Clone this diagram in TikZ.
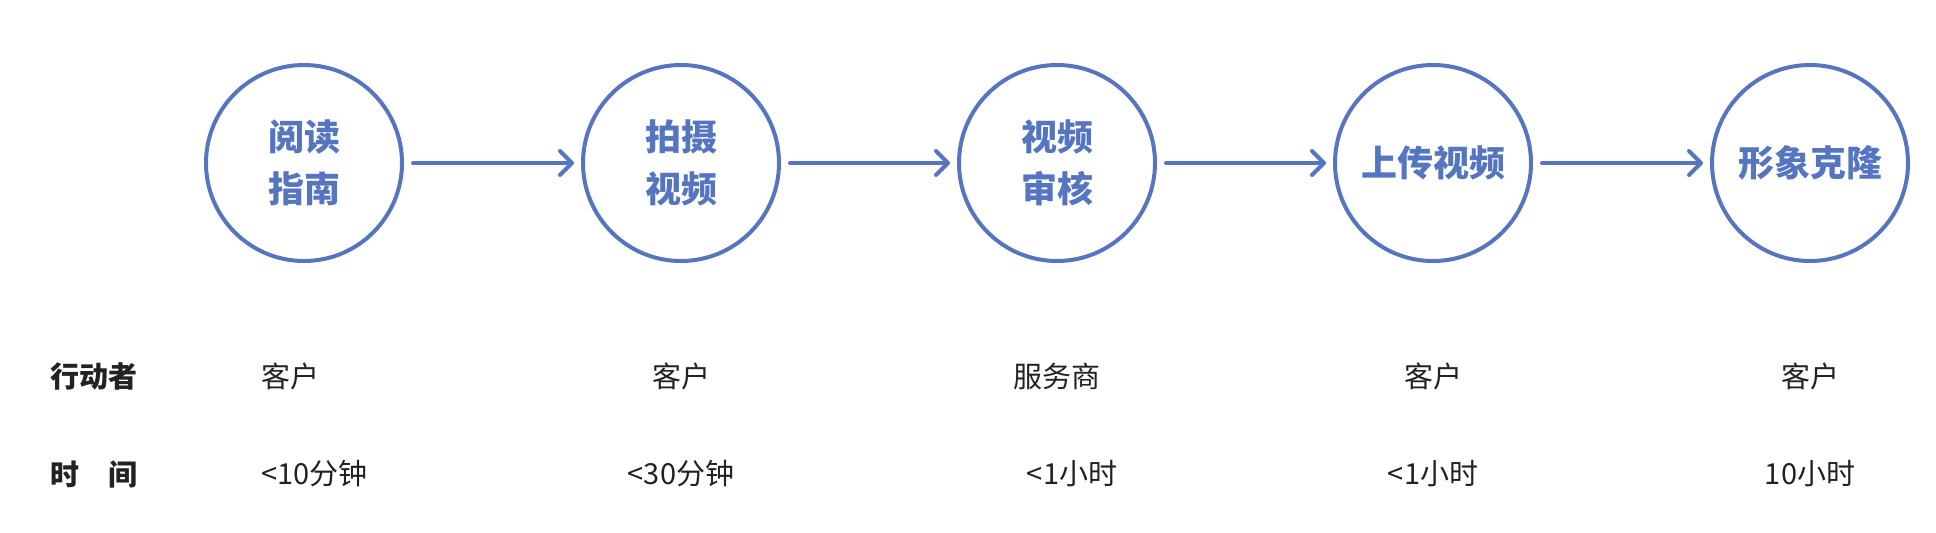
\documentclass[tikz,border=0pt]{standalone}
\usepackage{xcolor}
\usepackage{fontspec}
\setmainfont{Noto Sans CJK SC}
\usepackage{tikz}
\usetikzlibrary{arrows.meta}
\usetikzlibrary{positioning}
\definecolor{flowblue}{RGB}{86,117,193}
\definecolor{cellgray}{RGB}{34,34,34}
\tikzset{
stage/.style = { circle, draw = flowblue, line width = 2pt, minimum size = 98pt, inner sep = 0pt, text = flowblue, font = \fontsize{18pt}{26.25pt}\selectfont\bfseries, align = center },
flow/.style = { draw = flowblue, line width = 2pt, line cap = round, -{Straight Barb[length = 6pt, width = 12pt, line cap = round, line join = round]}, shorten < = 4.5pt, shorten > = 3.5pt },
row head/.style = { anchor = west, inner sep = 0pt, text = cellgray, font = \fontsize{14.5pt}{17pt}\selectfont\bfseries },
row cell/.style = { inner sep = 0pt, text = cellgray, font = \fontsize{14.5pt}{17pt}\selectfont },
}

\begin{document}
\begin{tikzpicture}[x = 0.5pt, y = -0.5pt]
      \useasboundingbox (0, 0) rectangle (1936, 532);
      % stages
      \node[stage] (read) at (304, 163) {阅读\\指南};
      \node[stage] (shoot) at (681, 163) {拍摄\\视频};
      \node[stage] (review) at (1057, 163) {视频\\审核};
      \node[stage] (upload) at (1433, 163) {上传视频};
      \node[stage] (clone) at (1810, 163) {形象克隆};
      \draw[flow] (read) -- (shoot);
      \draw[flow] (shoot) -- (review);
      \draw[flow] (review) -- (upload);
      \draw[flow] (upload) -- (clone);
      % actor row
      \node[row head] (actor) at (50, 376) {行动者};
      \node[row cell, anchor = west] (actor read) at (261, 376) {客户};
      \node[row cell] (actor shoot) at (681, 376) {客户};
      \node[row cell] (actor review) at (1057, 376) {服务商};
      \node[row cell] (actor upload) at (1433, 376) {客户};
      \node[row cell] (actor clone) at (1810, 376) {客户};
      % time row
      \node[row head] (time) at (50, 474) {时\quad 间};
      \node[row cell, anchor = west] (time read) at (261, 474) {<10分钟};
      \node[row cell] (time shoot) at (681, 474) {<30分钟};
      \node[row cell] (time review) at (1072, 474) {<1小时};
      \node[row cell] (time upload) at (1433, 474) {<1小时};
      \node[row cell] (time clone) at (1810, 474) {10小时};
\end{tikzpicture}
\end{document}
